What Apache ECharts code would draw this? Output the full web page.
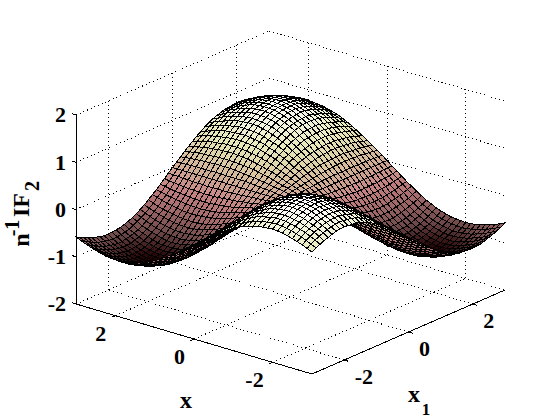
<!DOCTYPE html>
<html><head><meta charset="utf-8"><style>html,body{margin:0;background:#fff}#c{width:560px;height:420px}#c svg line,#c svg path,#c svg polygon{shape-rendering:crispEdges}</style>
<script src="https://cdn.jsdelivr.net/npm/echarts@6/dist/echarts.min.js"></script></head><body><div id="c"></div>
<script>
const xValues=[-3,-2.875,-2.75,-2.625,-2.5,-2.375,-2.25,-2.125,-2,-1.875,-1.75,-1.625,-1.5,-1.375,-1.25,-1.125,-1,-0.875,-0.75,-0.625,-0.5,-0.375,-0.25,-0.125,0,0.125,0.25,0.375,0.5,0.625,0.75,0.875,1,1.125,1.25,1.375,1.5,1.625,1.75,1.875,2,2.125,2.25,2.375,2.5,2.625,2.75,2.875,3];
const x1Values=[-3,-2.875,-2.75,-2.625,-2.5,-2.375,-2.25,-2.125,-2,-1.875,-1.75,-1.625,-1.5,-1.375,-1.25,-1.125,-1,-0.875,-0.75,-0.625,-0.5,-0.375,-0.25,-0.125,0,0.125,0.25,0.375,0.5,0.625,0.75,0.875,1,1.125,1.25,1.375,1.5,1.625,1.75,1.875,2,2.125,2.25,2.375,2.5,2.625,2.75,2.875,3];
const xTicks=[2,0,-2], x1Ticks=[-2,0,2], zTicks=[-2,-1,0,1,2];
// surface height in hundredths; rows follow xValues, columns follow x1Values
const zHundredths=[
[58,63,67,71,74,77,80,81,82,81,80,79,76,73,69,64,59,53,46,39,32,24,16,8,0,-8,-16,-24,-32,-39,-46,-53,-59,-64,-69,-73,-76,-79,-80,-81,-82,-81,-80,-77,-74,-71,-67,-63,-58],
[63,68,73,77,81,84,86,88,89,88,87,85,83,79,74,69,64,57,50,42,34,26,18,9,0,-9,-18,-26,-34,-42,-50,-57,-64,-69,-74,-79,-83,-85,-87,-88,-89,-88,-86,-84,-81,-77,-73,-68,-63],
[67,73,78,83,86,90,92,94,95,95,93,91,88,85,80,74,68,61,54,45,37,28,19,9,0,-9,-19,-28,-37,-45,-54,-61,-68,-74,-80,-85,-88,-91,-93,-95,-95,-94,-92,-90,-86,-83,-78,-73,-67],
[71,77,83,87,91,95,97,99,100,100,99,96,93,89,84,78,72,64,57,48,39,30,20,10,0,-10,-20,-30,-39,-48,-57,-64,-72,-78,-84,-89,-93,-96,-99,-100,-100,-99,-97,-95,-91,-87,-83,-77,-71],
[74,81,86,91,95,99,102,104,105,104,103,101,98,93,88,82,75,67,59,50,41,31,21,10,0,-10,-21,-31,-41,-50,-59,-67,-75,-82,-88,-93,-98,-101,-103,-104,-105,-104,-102,-99,-95,-91,-86,-81,-74],
[77,84,90,95,99,103,106,108,109,108,107,105,101,97,91,85,78,70,61,52,42,32,22,11,0,-11,-22,-32,-42,-52,-61,-70,-78,-85,-91,-97,-101,-105,-107,-108,-109,-108,-106,-103,-99,-95,-90,-84,-77],
[80,86,92,97,102,106,109,111,112,112,110,108,104,100,94,88,80,72,63,54,44,33,22,11,0,-11,-22,-33,-44,-54,-63,-72,-80,-88,-94,-100,-104,-108,-110,-112,-112,-111,-109,-106,-102,-97,-92,-86,-80],
[81,88,94,99,104,108,111,113,114,114,112,110,106,102,96,89,82,73,64,55,44,34,23,11,0,-11,-23,-34,-44,-55,-64,-73,-82,-89,-96,-102,-106,-110,-112,-114,-114,-113,-111,-108,-104,-99,-94,-88,-81],
[82,89,95,100,105,109,112,114,115,115,113,111,107,102,97,90,82,74,65,55,45,34,23,12,0,-12,-23,-34,-45,-55,-65,-74,-82,-90,-97,-102,-107,-111,-113,-115,-115,-114,-112,-109,-105,-100,-95,-89,-82],
[81,88,95,100,104,109,112,114,115,114,113,111,107,102,96,90,82,74,65,55,45,34,23,11,0,-11,-23,-34,-45,-55,-65,-74,-82,-90,-96,-102,-107,-111,-113,-114,-115,-114,-112,-109,-104,-100,-95,-88,-81],
[80,87,93,99,103,107,110,112,113,113,112,109,106,101,95,89,81,73,64,54,44,34,23,11,0,-11,-23,-34,-44,-54,-64,-73,-81,-89,-95,-101,-106,-109,-112,-113,-113,-112,-110,-107,-103,-99,-93,-87,-80],
[79,85,91,96,101,105,108,110,111,111,109,107,103,99,93,87,80,71,63,53,43,33,22,11,0,-11,-22,-33,-43,-53,-63,-71,-80,-87,-93,-99,-103,-107,-109,-111,-111,-110,-108,-105,-101,-96,-91,-85,-79],
[76,83,88,93,98,101,104,106,107,107,106,103,100,96,90,84,77,69,61,51,42,32,21,11,0,-11,-21,-32,-42,-51,-61,-69,-77,-84,-90,-96,-100,-103,-106,-107,-107,-106,-104,-101,-98,-93,-88,-83,-76],
[73,79,85,89,93,97,100,102,103,102,101,99,96,91,86,80,73,66,58,49,40,30,20,10,0,-10,-20,-30,-40,-49,-58,-66,-73,-80,-86,-91,-96,-99,-101,-102,-103,-102,-100,-97,-93,-89,-85,-79,-73],
[69,74,80,84,88,91,94,96,97,96,95,93,90,86,81,76,69,62,55,46,38,29,19,10,0,-10,-19,-29,-38,-46,-55,-62,-69,-76,-81,-86,-90,-93,-95,-96,-97,-96,-94,-91,-88,-84,-80,-74,-69],
[64,69,74,78,82,85,88,89,90,90,89,87,84,80,76,70,65,58,51,43,35,27,18,9,0,-9,-18,-27,-35,-43,-51,-58,-65,-70,-76,-80,-84,-87,-89,-90,-90,-89,-88,-85,-82,-78,-74,-69,-64],
[59,64,68,72,75,78,80,82,83,82,81,80,77,74,69,65,59,53,47,40,32,24,16,8,0,-8,-16,-24,-32,-40,-47,-53,-59,-65,-69,-74,-77,-80,-81,-82,-83,-82,-80,-78,-75,-72,-68,-64,-59],
[53,57,61,64,67,70,72,74,74,74,73,71,69,66,62,58,53,48,42,35,29,22,15,7,0,-7,-15,-22,-29,-35,-42,-48,-53,-58,-62,-66,-69,-71,-73,-74,-74,-74,-72,-70,-67,-64,-61,-57,-53],
[46,50,54,57,59,61,63,64,65,65,64,63,61,58,55,51,47,42,37,31,25,19,13,6,0,-6,-13,-19,-25,-31,-37,-42,-47,-51,-55,-58,-61,-63,-64,-65,-65,-64,-63,-61,-59,-57,-54,-50,-46],
[39,42,45,48,50,52,54,55,55,55,54,53,51,49,46,43,40,35,31,26,21,16,11,6,0,-6,-11,-16,-21,-26,-31,-35,-40,-43,-46,-49,-51,-53,-54,-55,-55,-55,-54,-52,-50,-48,-45,-42,-39],
[32,34,37,39,41,42,44,44,45,45,44,43,42,40,38,35,32,29,25,21,17,13,9,4,0,-4,-9,-13,-17,-21,-25,-29,-32,-35,-38,-40,-42,-43,-44,-45,-45,-44,-44,-42,-41,-39,-37,-34,-32],
[24,26,28,30,31,32,33,34,34,34,33,33,32,30,29,27,24,22,19,16,13,10,7,3,0,-3,-7,-10,-13,-16,-19,-22,-24,-27,-29,-30,-32,-33,-33,-34,-34,-34,-33,-32,-31,-30,-28,-26,-24],
[16,18,19,20,21,22,22,23,23,23,23,22,21,20,19,18,16,15,13,11,9,7,5,2,0,-2,-5,-7,-9,-11,-13,-15,-16,-18,-19,-20,-21,-22,-23,-23,-23,-23,-22,-22,-21,-20,-19,-18,-16],
[8,9,9,10,10,11,11,11,12,11,11,11,11,10,10,9,8,7,6,6,4,3,2,1,0,-1,-2,-3,-4,-6,-6,-7,-8,-9,-10,-10,-11,-11,-11,-11,-12,-11,-11,-11,-10,-10,-9,-9,-8],
[0,0,0,0,0,0,0,0,0,0,0,0,0,0,0,0,0,0,0,0,0,0,0,0,0,0,0,0,0,0,0,0,0,0,0,0,0,0,0,0,0,0,0,0,0,0,0,0,0],
[-8,-9,-9,-10,-10,-11,-11,-11,-12,-11,-11,-11,-11,-10,-10,-9,-8,-7,-6,-6,-4,-3,-2,-1,0,1,2,3,4,6,6,7,8,9,10,10,10,10,10,10,11,10,10,10,10,10,9,9,8],
[-16,-18,-19,-20,-21,-22,-22,-23,-23,-23,-23,-22,-21,-20,-19,-18,-16,-15,-13,-11,-9,-7,-5,-2,0,2,5,7,9,10,12,14,15,17,18,19,20,21,22,22,22,22,21,21,20,19,18,17,15],
[-24,-26,-28,-30,-31,-32,-33,-34,-34,-34,-33,-33,-32,-30,-29,-27,-24,-22,-19,-16,-13,-10,-7,-3,0,3,7,10,12,15,18,21,23,26,28,29,30,31,31,32,32,32,31,30,29,29,27,25,23],
[-32,-34,-37,-39,-41,-42,-44,-44,-45,-45,-44,-43,-42,-40,-38,-35,-32,-29,-25,-21,-17,-13,-9,-4,0,4,9,12,16,20,24,28,30,33,36,38,40,41,42,43,43,42,42,40,39,37,35,32,30],
[-39,-42,-45,-48,-50,-52,-54,-55,-55,-55,-54,-53,-51,-49,-46,-43,-40,-35,-31,-26,-21,-16,-11,-6,0,6,10,15,20,25,29,33,38,41,44,47,48,50,51,52,52,52,51,49,48,46,43,40,37],
[-46,-50,-54,-57,-59,-61,-63,-64,-65,-65,-64,-63,-61,-58,-55,-51,-47,-42,-37,-31,-25,-19,-13,-6,0,6,12,18,24,29,35,40,45,48,52,55,58,60,61,62,62,61,60,58,56,54,51,48,44],
[-53,-57,-61,-64,-67,-70,-72,-74,-74,-74,-73,-71,-69,-66,-62,-58,-53,-48,-42,-35,-29,-22,-15,-7,0,7,14,21,28,33,40,46,50,55,59,63,66,67,69,70,70,70,68,67,64,61,58,54,50],
[-59,-64,-68,-72,-75,-78,-80,-82,-83,-82,-81,-80,-77,-74,-69,-65,-59,-53,-47,-40,-32,-24,-16,-8,0,8,15,23,30,38,45,50,56,62,66,70,73,76,77,78,79,78,76,74,71,68,65,61,56],
[-64,-69,-74,-78,-82,-85,-88,-89,-90,-90,-89,-87,-84,-80,-76,-70,-65,-58,-51,-43,-35,-27,-18,-9,0,9,17,26,33,41,48,55,62,67,72,76,80,83,85,86,86,85,84,81,78,74,70,66,61],
[-69,-74,-80,-84,-88,-91,-94,-96,-97,-96,-95,-93,-90,-86,-81,-76,-69,-62,-55,-46,-38,-29,-19,-10,0,10,18,28,36,44,52,59,66,72,77,82,86,88,90,91,92,91,89,86,84,80,76,70,66],
[-73,-79,-85,-89,-93,-97,-100,-102,-103,-102,-101,-99,-96,-91,-86,-80,-73,-66,-58,-49,-40,-30,-20,-10,0,10,19,29,38,47,55,63,69,76,82,86,91,94,96,97,98,97,95,92,88,85,81,75,69],
[-76,-83,-88,-93,-98,-101,-104,-106,-107,-107,-106,-103,-100,-96,-90,-84,-77,-69,-61,-51,-42,-32,-21,-11,0,10,20,30,40,48,58,66,73,80,86,91,95,98,101,102,102,101,99,96,93,88,84,79,72],
[-79,-85,-91,-96,-101,-105,-108,-110,-111,-111,-109,-107,-103,-99,-93,-87,-80,-71,-63,-53,-43,-33,-22,-11,0,10,21,31,41,50,60,67,76,83,88,94,98,102,104,105,105,105,103,100,96,91,86,81,75],
[-80,-87,-93,-99,-103,-107,-110,-112,-113,-113,-112,-109,-106,-101,-95,-89,-81,-73,-64,-54,-44,-34,-23,-11,0,10,22,32,42,51,61,69,77,85,90,96,101,104,106,107,107,106,105,102,98,94,88,83,76],
[-81,-88,-95,-100,-104,-109,-112,-114,-115,-114,-113,-111,-107,-102,-96,-90,-82,-74,-65,-55,-45,-34,-23,-11,0,10,22,32,43,52,62,70,78,86,91,97,102,105,107,108,109,108,106,104,99,95,90,84,77],
[-82,-89,-95,-100,-105,-109,-112,-114,-115,-115,-113,-111,-107,-102,-97,-90,-82,-74,-65,-55,-45,-34,-23,-12,0,11,22,32,43,52,62,70,78,86,92,97,102,105,107,109,109,108,106,104,100,95,90,85,78],
[-81,-88,-94,-99,-104,-108,-111,-113,-114,-114,-112,-110,-106,-102,-96,-89,-82,-73,-64,-55,-44,-34,-23,-11,0,10,22,32,42,52,61,69,78,85,91,97,101,105,106,108,108,107,105,103,99,94,89,84,77],
[-80,-86,-92,-97,-102,-106,-109,-111,-112,-112,-110,-108,-104,-100,-94,-88,-80,-72,-63,-54,-44,-33,-22,-11,0,10,21,31,42,51,60,68,76,84,89,95,99,103,105,106,106,105,104,101,97,92,87,82,76],
[-77,-84,-90,-95,-99,-103,-106,-108,-109,-108,-107,-105,-101,-97,-91,-85,-78,-70,-61,-52,-42,-32,-22,-11,0,10,21,30,40,49,58,67,74,81,86,92,96,100,102,103,104,103,101,98,94,90,86,80,73],
[-74,-81,-86,-91,-95,-99,-102,-104,-105,-104,-103,-101,-98,-93,-88,-82,-75,-67,-59,-50,-41,-31,-21,-10,0,10,20,29,39,48,56,64,71,78,84,88,93,96,98,99,100,99,97,94,90,86,82,77,70],
[-71,-77,-83,-87,-91,-95,-97,-99,-100,-100,-99,-96,-93,-89,-84,-78,-72,-64,-57,-48,-39,-30,-20,-10,0,10,19,29,37,46,54,61,68,74,80,85,88,91,94,95,95,94,92,90,86,83,79,73,67],
[-67,-73,-78,-83,-86,-90,-92,-94,-95,-95,-93,-91,-88,-85,-80,-74,-68,-61,-54,-45,-37,-28,-19,-9,0,9,18,27,35,43,51,58,65,70,76,81,84,86,88,90,90,89,87,86,82,79,74,69,64],
[-63,-68,-73,-77,-81,-84,-86,-88,-89,-88,-87,-85,-83,-79,-74,-69,-64,-57,-50,-42,-34,-26,-18,-9,0,9,17,25,32,40,48,54,61,66,70,75,79,81,83,84,85,84,82,80,77,73,69,65,60],
[-58,-63,-67,-71,-74,-77,-80,-81,-82,-81,-80,-79,-76,-73,-69,-64,-59,-53,-46,-39,-32,-24,-16,-8,0,8,15,23,30,37,44,50,56,61,66,69,72,75,76,77,78,77,76,73,70,67,64,60,55]
];
const pinkStops=['#1e0000','#704a4a','#9f6868','#c38080','#d0a793','#ddcca5','#e9e9bc','#f4f4dd','#ffffff'];

const FONT='bold 22px "Liberation Serif"';
const project=(x,x1,z)=>[290.5-39.33*x+32.17*x1, 297-11.67*x-14*x1-47.25*(z+2)];
const depth=(x,x1,z)=>-1520*x-1858*x1+926*z;
const hex=h=>[1,3,5].map(i=>parseInt(h.substr(i,2),16));
function pink(z){
  const v=Math.max(0,Math.min(0.9999,(z+1.15)/2.3))*(pinkStops.length-1),i=Math.floor(v),f=v-i;
  const a=hex(pinkStops[i]),b=hex(pinkStops[i+1]);
  return 'rgb('+a.map((c,k)=>Math.round(c+(b[k]-c)*f)).join(',')+')';
}
const Z=(i,j)=>zHundredths[i][j]/100;
const cells=[];
for(let i=0;i<xValues.length-1;i++)for(let j=0;j<x1Values.length-1;j++){
  const zm=(Z(i,j)+Z(i+1,j)+Z(i,j+1)+Z(i+1,j+1))/4;
  cells.push({i,j,zm,d:depth((xValues[i]+xValues[i+1])/2,(x1Values[j]+x1Values[j+1])/2,zm)});
}
cells.sort((a,b)=>a.d-b.d);

// frame segments: [x,x1,z,x,x1,z,kind]
const X0=-3,X1=3,Y0=-3,Y1=3,ZB=-2,ZT=2,segs=[];
xTicks.forEach(t=>{segs.push([t,Y0,ZB,t,Y1,ZB,'dot'],[t,Y1,ZB,t,Y1,ZT,'dot'],[t,Y0,ZB,t,Y0-0.11,ZB,'solid']);});
x1Ticks.forEach(t=>{segs.push([X0,t,ZB,X1,t,ZB,'dot'],[X1,t,ZB,X1,t,ZT,'dot'],[X0,t,ZB,X0-0.11,t,ZB,'solid']);});
zTicks.forEach(t=>{segs.push([X1,Y0,t,X1,Y1,t,'dot'],[X1,Y1,t,X0,Y1,t,'dot'],[X1,Y0,t,X1+0.1,Y0,t,'solid']);});
segs.push([X1,Y0,ZB,X0,Y0,ZB,'solid'],[X0,Y0,ZB,X0,Y1,ZB,'solid'],[X1,Y0,ZB,X1,Y0,ZT,'solid']);

const labels=[];
xTicks.forEach(t=>labels.push({p:project(t,Y0,ZB),dx:-9,dy:17.5,a:'right',s:String(t)}));
x1Ticks.forEach(t=>labels.push({p:project(X0,t,ZB),dx:10.5,dy:16.5,a:'left',s:String(t)}));
zTicks.forEach(t=>labels.push({p:project(X1,Y0,t),dx:-10,dy:0,a:'right',s:String(t)}));

const chart=echarts.init(document.getElementById('c'),null,{renderer:'svg'});
const txt=(x,y,s,size,rot)=>({type:'text',x,y,rotation:rot||0,silent:true,style:{text:s,font:'bold '+size+'px "Liberation Serif"',fill:'#000',textAlign:'center',textVerticalAlign:'middle'}});
chart.setOption({
  animation:false,
  grid:{left:0,top:0,right:0,bottom:0},
  xAxis:{type:'value',min:0,max:560,show:false},
  yAxis:{type:'value',min:0,max:420,inverse:true,show:false},
  series:[
   {type:'custom',coordinateSystem:'cartesian2d',silent:true,clip:false,progressive:0,
    data:segs.map((s,i)=>[i,0]),
    renderItem(p,api){const s=segs[api.value(0)];const a=api.coord(project(s[0],s[1],s[2])),b=api.coord(project(s[3],s[4],s[5]));
      return {type:'line',shape:{x1:a[0],y1:a[1],x2:b[0],y2:b[1]},style:{stroke:'#000',lineWidth:1,lineDash:s[6]==='dot'?[1,3]:null}};}},
   {type:'custom',coordinateSystem:'cartesian2d',silent:true,clip:false,progressive:0,
    data:cells.map((c,i)=>[i,0]),
    renderItem(p,api){const c=cells[api.value(0)],i=c.i,j=c.j;
      const pts=[[i,j],[i+1,j],[i+1,j+1],[i,j+1]].map(q=>api.coord(project(xValues[q[0]],x1Values[q[1]],Z(q[0],q[1]))));
      return {type:'polygon',shape:{points:pts},style:{fill:pink(c.zm),stroke:'#000',lineWidth:1}};}},
   {type:'custom',coordinateSystem:'cartesian2d',silent:true,clip:false,progressive:0,
    data:labels.map((l,i)=>[i,0]),
    renderItem(p,api){const l=labels[api.value(0)];const c=api.coord([l.p[0]+l.dx,l.p[1]+l.dy]);
      return {type:'text',style:{x:c[0],y:c[1],text:l.s,font:FONT,fill:'#000',textAlign:l.a,textVerticalAlign:'middle'}};}}
  ],
  graphic:{elements:[
    txt(186,400,'x',24),txt(414,394,'x',24),txt(426,409,'1',17),
    txt(21,240,'n',24,Math.PI/2),txt(12,228,'-1',20,Math.PI/2),txt(21,205,'IF',24,Math.PI/2),txt(32,186,'2',20,Math.PI/2)
  ]}
});
</script></body></html>
